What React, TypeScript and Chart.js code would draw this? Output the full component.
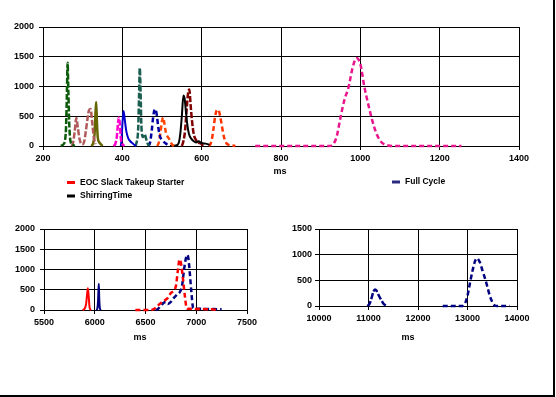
import React, { useEffect, useRef } from "react";
import { Chart, registerables } from "chart.js";
Chart.register(...registerables);

const FONT = "'Liberation Sans', Arial, sans-serif";

// ---------- Top panel (200 – 1400 ms) ----------
const topXTicks = [200, 400, 600, 800, 1000, 1200, 1400];
const topYTicks = [0, 500, 1000, 1500, 2000];

const greenX = [245, 250, 255, 258, 260, 262, 264, 266, 268, 270, 275, 280];
const greenY = [0, 20, 80, 300, 800, 1400, 900, 400, 150, 60, 20, 0];

const rosyX = [272, 276, 280, 284, 288, 292, 296, 300, 304, 308, 312, 316, 320, 324, 328, 332];
const rosyY = [0, 60, 250, 470, 300, 120, 40, 30, 80, 250, 450, 600, 620, 400, 150, 30];

const oliveX = [322, 326, 330, 332, 334, 336, 338, 342, 346, 350];
const oliveY = [0, 40, 200, 500, 740, 400, 150, 60, 30, 0];

const magentaX = [378, 382, 386, 388, 391, 394, 396, 398, 402, 405];
const magentaY = [0, 30, 150, 300, 480, 350, 150, 60, 20, 0];

const blueX = [396, 398, 400, 403, 406, 410, 415, 420, 425, 430, 435];
const blueY = [0, 100, 350, 590, 450, 250, 130, 80, 50, 20, 0];

const tealX = [432, 436, 440, 442, 444, 446, 448, 452, 456, 460, 464, 468];
const tealY = [0, 60, 300, 800, 1310, 900, 350, 150, 200, 120, 40, 0];

const navyTopX = [466, 470, 474, 478, 482, 486, 490, 494, 500, 506, 512, 518];
const navyTopY = [0, 60, 250, 500, 620, 560, 350, 180, 100, 60, 30, 0];

const orangeX = [488, 492, 496, 500, 503, 506, 510, 514, 518, 522, 526, 530];
const orangeY = [0, 60, 220, 420, 480, 380, 220, 160, 120, 60, 20, 0];

const shirringX = [520, 535, 542, 546, 550, 554, 557, 560, 564, 568, 574, 580, 586, 592, 600, 610, 620];
const shirringY = [0, 10, 50, 200, 500, 850, 800, 600, 350, 200, 120, 80, 60, 80, 50, 40, 20];

const maroonX = [550, 554, 558, 562, 566, 569, 572, 576, 580, 586, 592, 598, 604];
const maroonY = [0, 80, 250, 600, 900, 950, 700, 400, 200, 100, 60, 40, 0];

const redOrangeX = [618, 622, 626, 630, 634, 638, 642, 646, 650, 654, 658, 662, 668, 675, 685];
const redOrangeY = [0, 30, 120, 300, 500, 600, 610, 520, 380, 220, 110, 50, 20, 10, 0];

const pinkX = [735, 800, 850, 900, 920, 930, 940, 950, 960, 970, 980, 990, 1000, 1010, 1020, 1030, 1040, 1050, 1060, 1070, 1080, 1100, 1150, 1200, 1255];
const pinkY = [0, 0, 0, 0, 0, 20, 150, 480, 780, 980, 1300, 1480, 1380, 1000, 700, 430, 220, 90, 30, 8, 0, 0, 0, 0, 0];

// ---------- Bottom-left panel (5500 – 7500 ms) ----------
const blXTicks = [5500, 6000, 6500, 7000, 7500];
const blYTicks = [0, 500, 1000, 1500, 2000];

const eocSmallX = [5880, 5900, 5915, 5925, 5932, 5940, 5950, 5965];
const eocSmallY = [0, 30, 150, 400, 540, 350, 50, 0];

const fullSmallX = [6015, 6025, 6032, 6036, 6040, 6044, 6050, 6060];
const fullSmallY = [0, 30, 200, 450, 650, 300, 50, 0];

const eocBigX = [6400, 6450, 6500, 6550, 6580, 6610, 6650, 6680, 6720, 6750, 6780, 6800, 6820, 6835, 6850, 6870, 6890, 6905, 6920, 6950, 7000, 7050, 7100, 7150, 7200];
const eocBigY = [0, 0, 0, 0, 20, 80, 170, 220, 300, 420, 480, 600, 1000, 1250, 1150, 750, 300, 50, 30, 30, 25, 25, 20, 20, 0];

const fullBigX = [6600, 6620, 6650, 6680, 6700, 6720, 6750, 6780, 6810, 6840, 6860, 6880, 6900, 6915, 6930, 6950, 6970, 7000, 7050, 7100, 7150, 7200, 7250];
const fullBigY = [0, 20, 100, 180, 200, 150, 200, 300, 380, 450, 600, 1000, 1300, 1358, 1100, 500, 50, 30, 30, 25, 25, 20, 20];

// ---------- Bottom-right panel (10000 – 14000 ms) ----------
const brXTicks = [10000, 11000, 12000, 13000, 14000];
const brYTicks = [0, 500, 1000, 1500];

const cycleAX = [10980, 11020, 11060, 11100, 11130, 11160, 11200, 11250, 11300, 11360];
const cycleAY = [0, 40, 150, 280, 320, 300, 220, 130, 50, 0];

const cycleBX = [12500, 12600, 12700, 12800, 12900, 12950, 13000, 13050, 13100, 13150, 13190, 13250, 13300, 13350, 13400, 13450, 13500, 13550, 13600, 13700, 13800, 13850];
const cycleBY = [0, 0, 0, 0, 0, 50, 200, 450, 680, 870, 930, 850, 700, 550, 380, 200, 80, 10, 0, 0, 0, 0];

// ---------- Labels ----------
const legendEOC = "EOC Slack Takeup Starter";
const legendShirring = "ShirringTime";
const legendFull = "Full Cycle";
const axisTitle = "ms";

const RED = "#FF0000";
const NAVY = "#000080";

function ds(label: string, xs: number[], ys: number[], color: string, dash: number[], w = 2.5) {
  return {
    label,
    data: xs.map((x, i) => ({ x, y: ys[i] })),
    borderColor: color,
    backgroundColor: color,
    borderWidth: w,
    borderDash: dash,
    pointRadius: 0,
    fill: false,
    cubicInterpolationMode: "monotone" as const,
    clip: 4,
  };
}

const DASH = [5, 3];
const DENSE = [6, 2];
const SOLID: number[] = [];

type Txt = { text: string; x: number; y: number; marker?: string; size?: number };
type Area = { l: number; r: number; t: number; b: number };

function Panel(props: {
  left: number; top: number; width: number; height: number; area: Area;
  xTicks: number[]; yTicks: number[]; datasets: any[]; texts: Txt[]; yPad?: number;
}) {
  const ref = useRef<HTMLCanvasElement>(null);
  const { left, top, width, height, area, xTicks, yTicks, datasets, texts, yPad } = props;
  useEffect(() => {
    const textPlugin = {
      id: "texts",
      afterDraw(chart: any) {
        const ctx = chart.ctx as CanvasRenderingContext2D;
        ctx.save();
        for (const t of texts) {
          if (t.marker) {
            ctx.fillStyle = t.marker;
            ctx.fillRect(t.x - 13, t.y - 1.5, 8, 3);
          }
          ctx.fillStyle = "#000";
          ctx.font = `bold ${t.size ?? 9}px ${FONT}`;
          ctx.textAlign = t.marker ? "left" : "center";
          ctx.textBaseline = "middle";
          ctx.fillText(t.text, t.x, t.y);
        }
        ctx.restore();
      },
    };
    const tickFont = { family: FONT, size: 9, weight: "bold" as const };
    const chart = new Chart(ref.current!, {
      type: "line",
      data: { datasets },
      options: {
        responsive: false,
        animation: false,
        layout: { padding: { left: 0, top: area.t, right: width - area.r, bottom: 0 } },
        plugins: { legend: { display: false }, tooltip: { enabled: false } },
        scales: {
          x: {
            type: "linear",
            min: xTicks[0],
            max: xTicks[xTicks.length - 1],
            afterBuildTicks: (s: any) => { s.ticks = xTicks.map((v) => ({ value: v })); },
            afterFit: (s: any) => { s.height = height - area.b; },
            grid: { color: "#000", lineWidth: 1, tickLength: 4, drawTicks: true },
            border: { color: "#000", width: 1 },
            ticks: { color: "#000", font: tickFont, padding: 3, maxRotation: 0, autoSkip: false, callback: (v: any) => String(v) },
          },
          y: {
            type: "linear",
            min: yTicks[0],
            max: yTicks[yTicks.length - 1],
            afterBuildTicks: (s: any) => { s.ticks = yTicks.map((v) => ({ value: v })); },
            afterFit: (s: any) => { s.width = area.l; },
            grid: { color: "#000", lineWidth: 1, tickLength: 4, drawTicks: true },
            border: { color: "#000", width: 1 },
            ticks: { color: "#000", font: tickFont, padding: yPad ?? 5, autoSkip: false, callback: (v: any) => String(v) },
          },
        },
      },
      plugins: [textPlugin],
    });
    return () => chart.destroy();
  }, []);
  return <canvas ref={ref} width={width} height={height} style={{ position: "absolute", left, top, display: "block" }} />;
}

export default function App() {
  const topSets = [
    ds("Series 1", greenX, greenY, "#0B5B0B", DENSE, 2.5),
    ds("Series 2", rosyX, rosyY, "#B05A5A", DENSE, 2.5),
    ds("Series 3", oliveX, oliveY, "#666600", SOLID, 2.5),
    ds("Series 4", magentaX, magentaY, "#FF00CC", DENSE, 2.5),
    ds("Series 5", blueX, blueY, "#0000CC", SOLID, 2),
    ds("Series 6", tealX, tealY, "#1A5E50", DENSE, 2.5),
    ds("Series 7", navyTopX, navyTopY, "#0000A0", DASH, 2.5),
    ds("Series 8", orangeX, orangeY, "#FF4500", DASH, 2.5),
    ds(legendShirring, shirringX, shirringY, "#000000", SOLID, 2),
    ds("Series 10", maroonX, maroonY, "#800000", DENSE, 2.5),
    ds(legendEOC, redOrangeX, redOrangeY, "#FF3300", DASH, 2.5),
    ds("Series 12", pinkX, pinkY, "#E8168C", DASH, 2.5),
  ];
  const blSets = [
    ds(legendEOC, eocSmallX, eocSmallY, RED, SOLID, 2),
    ds(legendFull, fullSmallX, fullSmallY, NAVY, SOLID, 2),
    ds(legendEOC, eocBigX, eocBigY, RED, DASH, 2.5),
    ds(legendFull, fullBigX, fullBigY, NAVY, DASH, 2.5),
  ];
  const brSets = [
    ds(legendFull, cycleAX, cycleAY, NAVY, DENSE, 2.5),
    ds(legendFull, cycleBX, cycleBY, NAVY, DASH, 2.5),
  ];
  return (
    <div style={{ position: "absolute", left: 0, top: 0, width: 556, height: 397, background: "#fff", overflow: "hidden" }}>
      <Panel left={0} top={0} width={556} height={205}
        area={{ l: 43, r: 519, t: 27, b: 146 }}
        xTicks={topXTicks} yTicks={topYTicks} datasets={topSets}
        texts={[
          { text: axisTitle, x: 280, y: 172 },
          { text: legendEOC, x: 80, y: 182.5, marker: RED, size: 8.5 },
          { text: legendShirring, x: 80, y: 196, marker: "#000000", size: 8.5 },
          { text: legendFull, x: 405, y: 182, marker: "#2A2A80", size: 8.5 },
        ]} />
      <Panel left={0} top={210} width={278} height={140}
        area={{ l: 44, r: 247, t: 19, b: 100 }}
        xTicks={blXTicks} yTicks={blYTicks} datasets={blSets}
        texts={[{ text: axisTitle, x: 140, y: 128 }]} />
      <Panel left={278} top={210} width={278} height={140}
        area={{ l: 41, r: 239, t: 19, b: 96 }}
        xTicks={brXTicks} yTicks={brYTicks} datasets={brSets} yPad={3}
        texts={[{ text: axisTitle, x: 130, y: 128 }]} />
      <div style={{ position: "absolute", left: 553, top: 0, width: 2, height: 397, background: "#000" }} />
      <div style={{ position: "absolute", left: 0, top: 395, width: 555, height: 2, background: "#000" }} />
    </div>
  );
}
